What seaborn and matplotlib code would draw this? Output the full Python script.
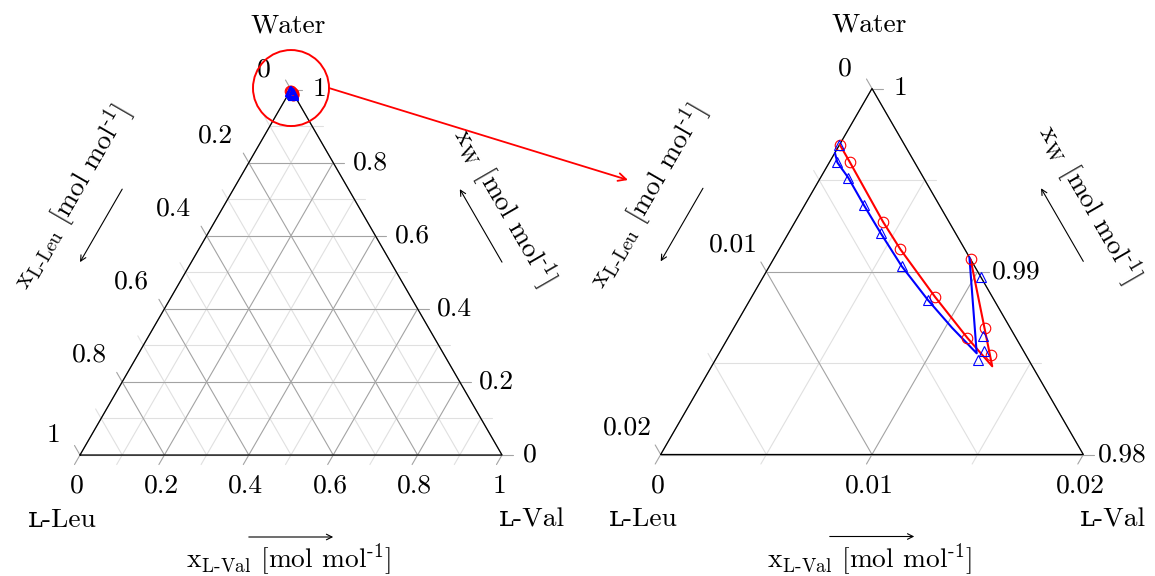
import numpy as np
import matplotlib
matplotlib.use("Agg")
import matplotlib.pyplot as plt
import seaborn as sns
from matplotlib.patches import Circle, ConnectionPatch, FancyArrowPatch

# Solid-liquid equilibrium of the water / L-Val / L-Leu system (mole fractions)
# Series 1 (red, circles) and series 2 (blue, triangles): measured points
exp1_val = [0.00000, 0.00094, 0.00418, 0.00574, 0.00868, 0.01133, 0.00933, 0.01189, 0.01292]
exp1_w = [0.99694, 0.99600, 0.99270, 0.99121, 0.98861, 0.98637, 0.99067, 0.98692, 0.98542]
exp2_val = [0.00000, 0.00038, 0.00131, 0.00279, 0.00435, 0.00625, 0.00844, 0.01029, 0.01204, 0.01250, 0.01244]
exp2_w = [0.99689, 0.99596, 0.99513, 0.99364, 0.99211, 0.99030, 0.98843, 0.98971, 0.98645, 0.98563, 0.98518]
# Calculated solubility curves
model1_val = [0.00000, 0.00094, 0.00418, 0.00574, 0.00868, 0.01133, 0.01328, 0.00933]
model1_w = [0.99694, 0.99600, 0.99270, 0.99121, 0.98861, 0.98637, 0.98482, 0.99067]
model2_val = [0.00000, 0.00038, 0.00131, 0.00279, 0.00435, 0.00625, 0.00844, 0.01032, 0.01219, 0.00922]
model2_w = [0.99649, 0.99596, 0.99513, 0.99364, 0.99211, 0.99030, 0.98843, 0.98693, 0.98553, 0.99078]

# Axis ranges and tick labels
full_ticks = [0.0, 0.2, 0.4, 0.6, 0.8, 1.0]
full_minor = [0.1, 0.3, 0.5, 0.7, 0.9]
full_labels = ["0", "0.2", "0.4", "0.6", "0.8", "1"]
zoom_ticks = [0.0, 0.01, 0.02]
zoom_minor = [0.005, 0.015]
zoom_labels = ["0", "0.01", "0.02"]
zoom_w_labels = ["0.98", "0.99", "1"]

corner_top = "Water"
corner_left = "ʟ-Leu"
corner_right = "ʟ-Val"
lab_leu = r"x$_{\mathrm{L\text{-}Leu}}$ [mol mol$^{\text{-1}}$]"
lab_w = r"x$_{\mathrm{W}}$ [mol mol$^{\text{-1}}$]"
lab_val = r"x$_{\mathrm{L\text{-}Val}}$ [mol mol$^{\text{-1}}$]"

sns.set_theme(style="white")
plt.rcParams["font.family"] = ["cmr10", "DejaVu Serif"]
plt.rcParams["mathtext.fontset"] = "cm"
plt.rcParams["axes.formatter.use_mathtext"] = True
plt.rcParams["text.color"] = "black"

H = np.sqrt(3) / 2
FS = 19.8
MAJ = "#a3a3a3"
MIN = "#e0e0e0"
W_PX, H_PX = 1155, 576


def to_xy(val, w, w_lo, span):
    s_w = (np.asarray(w, float) - w_lo) / span
    s_v = np.asarray(val, float) / span
    return s_v + 0.5 * s_w, H * s_w


def make_axes(fig, left_px, base_px, width_px):
    ax = fig.add_axes([left_px / W_PX, (H_PX - base_px) / H_PX,
                       width_px / W_PX, width_px * H / H_PX])
    ax.set_xlim(0, 1)
    ax.set_ylim(0, H)
    ax.set_axis_off()
    return ax


def draw_frame(ax, major, minor, scale_px):
    tl = 11 / scale_px
    for fr, col, z in [(minor, MIN, 1), (major, MAJ, 2)]:
        for t in fr:
            # constant water: horizontal, tick to the right
            ax.plot([0.5 * t, 1 - 0.5 * t + tl], [H * t, H * t], color=col, lw=0.8, zorder=z, clip_on=False)
            # constant L-Val: parallel to left edge, tick down-left
            ax.plot([t - 0.5 * tl, 0.5 + 0.5 * t], [-H * tl, H * (1 - t)], color=col, lw=0.8, zorder=z, clip_on=False)
            # constant L-Leu: parallel to right edge, tick up-left
            ax.plot([0.5 * (1 - t) - 0.5 * tl, 1 - t], [H * (1 - t) + H * tl, 0], color=col, lw=0.8, zorder=z, clip_on=False)
    ax.plot([0, 1, 0.5, 0], [0, 0, H, 0], color="black", lw=0.9, zorder=3, clip_on=False)


def draw_labels(ax, tick_fracs, bottom_labels, left_labels, right_labels, scale_px, lab_pos):
    px = 1 / scale_px
    for t, lb in zip(tick_fracs, bottom_labels):
        ax.text(t - 3 * px, -31 * px, lb, ha="center", va="center", fontsize=FS)
    for t, lb in zip(tick_fracs, left_labels):
        # t is the L-Leu fraction of the range (0 at the top)
        x, y = 0.5 * (1 - t), H * (1 - t)
        dx, dy = (-27, 20) if len(lb) == 1 else (-33, 27)
        ax.text(x + dx * px, y + dy * px, lb, ha="center", va="center", fontsize=FS)
    for t, lb in zip(tick_fracs, right_labels):
        x, y = 1 - 0.5 * t, H * t
        dx = {1: 28, 3: 37}.get(len(lb), 39)
        ax.text(x + dx * px, y, lb, ha="center", va="center", fontsize=FS)

    ax.text(0.493, H + 64 * px, corner_top, ha="center", va="center", fontsize=FS)
    ax.text(-0.042, -65 * px, corner_left, ha="center", va="center", fontsize=FS)
    ax.text(1.070, -65 * px, corner_right, ha="center", va="center", fontsize=FS)

    (lx, ly), (rx, ry) = lab_pos
    ax.text(0.495, -105 * px, lab_val, ha="center", va="center", fontsize=FS)
    ax.text(lx, ly, lab_leu, ha="center", va="center", fontsize=FS, rotation=60,
            rotation_mode="anchor")
    ax.text(rx, ry, lab_w, ha="center", va="center", fontsize=FS, rotation=-60,
            rotation_mode="anchor")
    arrows = [((0.40, -82 * px), (0.60, -82 * px)),
              ((0.100, 0.630), (0.000, 0.457)),
              ((1.000, 0.457), (0.900, 0.630))]
    for a, b in arrows:
        ax.add_patch(FancyArrowPatch(a, b, arrowstyle="->", mutation_scale=10, color="black",
                                     lw=0.8, clip_on=False, shrinkA=0, shrinkB=0))


def draw_data(ax, w_lo, span):
    for mv, mw, ev, ew, col, mk in [(model1_val, model1_w, exp1_val, exp1_w, "red", "o"),
                                    (model2_val, model2_w, exp2_val, exp2_w, "blue", "^")]:
        lx, ly = to_xy(mv, mw, w_lo, span)
        sns.lineplot(x=lx, y=ly, sort=False, estimator=None, color=col, lw=1.5, ax=ax,
                     zorder=5, clip_on=False)
        px_, py_ = to_xy(ev, ew, w_lo, span)
        sns.lineplot(x=px_, y=py_, sort=False, estimator=None, color=col, ax=ax, linestyle="",
                     marker=mk, markersize=7.6 if mk == "o" else 7.2, markerfacecolor="none",
                     markeredgecolor=col, markeredgewidth=0.8, zorder=6, clip_on=False)


fig = plt.figure(figsize=(W_PX / 100, H_PX / 100), dpi=100)

# Full composition triangle
axL = make_axes(fig, 80, 455, 422)
draw_frame(axL, full_ticks, full_minor, 422)
draw_labels(axL, full_ticks, full_labels, full_labels, full_labels, 422,
            ((-0.020, 0.611), (1.005, 0.588)))
draw_data(axL, 0.0, 1.0)

# Water-rich corner, enlarged
axR = make_axes(fig, 660.7, 454.5, 422.6)
span = 0.02
draw_frame(axR, [t / span for t in zoom_ticks], [t / span for t in zoom_minor], 422.6)
draw_labels(axR, [t / span for t in zoom_ticks], zoom_labels, zoom_labels, zoom_w_labels, 422.6,
            ((-0.030, 0.612), (1.015, 0.594)))
draw_data(axR, 0.98, span)

# highlight of the enlarged region
r = 38 / 422
axL.add_patch(Circle((0.5, H + 1.5 / 422), r, fill=False, edgecolor="red", lw=1.4,
                     zorder=7, clip_on=False))
con = ConnectionPatch(xyA=(0.5 + r, H + 1.5 / 422), coordsA=axL.transData,
                      xyB=(-32.7 / 422.6, 274.5 / 422.6), coordsB=axR.transData,
                      arrowstyle="->", mutation_scale=14, color="red", lw=1.3)
fig.add_artist(con)

for ax in (axL, axR):
    leg = ax.get_legend()
    if leg is not None:
        leg.remove()

fig.savefig("out.png", dpi=100, facecolor="white")
